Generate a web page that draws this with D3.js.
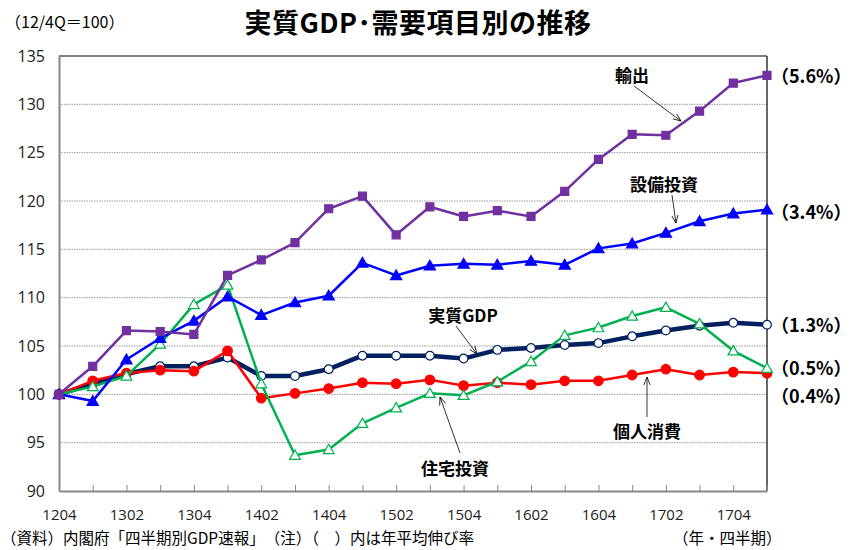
<!DOCTYPE html>
<html>
<head>
<meta charset="utf-8">
<script src="https://cdn.jsdelivr.net/npm/d3@7"></script>
<style>
  body { margin: 0; background: #fff; }
  svg text { font-family: "Noto Sans CJK JP", "Noto Sans", sans-serif; }
</style>
</head>
<body>
<div id="chart"></div>
<script>
// quarters (YYQ)
var quarters = ['1204', '1301', '1302', '1303', '1304', '1401', '1402', '1403', '1404', '1501', '1502',
    '1503', '1504', '1601', '1602', '1603', '1604', '1701', '1702', '1703', '1704', '1801'];
var tickLabels = ['1204', '1302', '1304', '1402', '1404', '1502', '1504', '1602', '1604', '1702', '1704'];

var gdp = [100, 101.1, 102.1, 102.9, 102.9, 103.8, 101.9, 101.9, 102.6, 104.0, 104.0,
    104.0, 103.7, 104.6, 104.8, 105.1, 105.3, 106.0, 106.6, 107.1, 107.4, 107.2];
var consumption = [100, 101.4, 102.2, 102.5, 102.4, 104.5, 99.6, 100.1, 100.6, 101.2, 101.1,
    101.5, 100.9, 101.2, 101.0, 101.4, 101.4, 102.0, 102.6, 102.0, 102.3, 102.2];
var housing = [100, 100.8, 101.9, 105.2, 109.3, 111.3, 101.1, 93.7, 94.3, 97.0, 98.6,
    100.1, 99.9, 101.3, 103.4, 106.1, 106.9, 108.1, 109.0, 107.3, 104.5, 102.7];
var equipment = [100, 99.3, 103.6, 105.8, 107.6, 110.1, 108.2, 109.5, 110.2, 113.6, 112.3,
    113.3, 113.5, 113.4, 113.8, 113.4, 115.1, 115.6, 116.7, 117.9, 118.7, 119.1];
var exports = [100, 102.9, 106.6, 106.5, 106.2, 112.3, 113.9, 115.7, 119.2, 120.5, 116.5,
    119.4, 118.4, 119.0, 118.4, 121.0, 124.3, 126.9, 126.8, 129.3, 132.2, 133.0];

var growthLabels = ['（5.6%）', '（3.4%）', '（1.3%）', '（0.5%）', '（0.4%）'];

var W = 850, H = 550,
    plotL = 59, plotR = 767, plotT = 56, plotB = 491;

var svg = d3.select('#chart').append('svg')
    .attr('width', W).attr('height', H);

var x = d3.scalePoint().domain(quarters).range([plotL, plotR]);
var y = d3.scaleLinear().domain([90, 135]).range([plotB, plotT]);

// title & unit
svg.append('text').attr('x', 5).attr('y', 28)
    .style('font-size', '16px').text('（12/4Q＝100）');
svg.append('text').attr('x', 418).attr('y', 33).attr('text-anchor', 'middle')
    .style('font-size', '27px').style('font-weight', 'bold').style('letter-spacing', '0.5px')
    .text('実質GDP･需要項目別の推移');

// grid
svg.append('g').selectAll('line')
    .data(d3.range(95, 135, 5)).enter()
    .append('line')
    .attr('x1', plotL).attr('x2', plotR)
    .attr('y1', function(d) { return y(d); }).attr('y2', function(d) { return y(d); })
    .attr('stroke', '#999').attr('stroke-width', 1)
    .attr('stroke-dasharray', '1.5,1');

// frame: top/right black, left/bottom gray
svg.append('line').attr('x1', plotL).attr('x2', plotR).attr('y1', plotT).attr('y2', plotT)
    .attr('stroke', '#000').attr('stroke-width', 1.2);
svg.append('line').attr('x1', plotR).attr('x2', plotR).attr('y1', plotT).attr('y2', plotB)
    .attr('stroke', '#000').attr('stroke-width', 1.2);

var yAxis = svg.append('g').attr('transform', 'translate(' + plotL + ',0)')
    .call(d3.axisLeft(y).tickValues(d3.range(90, 136, 5)).tickSize(0).tickPadding(14));
yAxis.select('.domain').attr('stroke', '#888').attr('stroke-width', 2);
yAxis.selectAll('text').style('font-size', '16px').style('font-family', '"Open Sans", sans-serif')
    .attr('fill', '#222');

var xAxis = svg.append('g').attr('transform', 'translate(0,' + plotB + ')')
    .call(d3.axisBottom(x).tickSize(-6).tickSizeOuter(0)
        .tickFormat(function(d) { return tickLabels.indexOf(d) >= 0 ? d : ''; }));
xAxis.select('.domain').attr('stroke', '#888').attr('stroke-width', 2);
xAxis.selectAll('.tick line').attr('stroke', '#888');
xAxis.selectAll('text').attr('dy', '1.75em').style('font-size', '15px')
    .style('font-family', '"Open Sans", sans-serif').attr('fill', '#222');

// series
var line = d3.line()
    .x(function(d, i) { return x(quarters[i]); })
    .y(function(d) { return y(d); });

function drawSeries(values, color, width, marker, fill) {
    var g = svg.append('g');
    g.append('path').datum(values)
        .attr('d', line).attr('fill', 'none')
        .attr('stroke', color).attr('stroke-width', width)
        .attr('stroke-linejoin', 'round');
    var sym = d3.symbol().type(marker.type).size(marker.size);
    g.selectAll('path.mk').data(values).enter()
        .append('path').attr('class', 'mk')
        .attr('d', sym)
        .attr('transform', function(d, i) {
            return 'translate(' + x(quarters[i]) + ',' + (y(d) + (marker.dy || 0)) + ')';
        })
        .attr('fill', fill).attr('stroke', color).attr('stroke-width', marker.sw || 1.2);
}

drawSeries(gdp, '#002060', 4.5, {type: d3.symbolCircle, size: 60}, '#fff');
drawSeries(consumption, '#ff0000', 2.5, {type: d3.symbolCircle, size: 72}, '#ff0000');
drawSeries(housing, '#00b050', 2.5, {type: d3.symbolTriangle, size: 50, dy: 1}, '#fff');
drawSeries(equipment, '#0000ff', 2.5, {type: d3.symbolTriangle, size: 55, dy: 1}, '#0000ff');
drawSeries(exports, '#7030a0', 2.5, {type: d3.symbolSquare, size: 64}, '#7030a0');

// annotations
var defs = svg.append('defs');
defs.append('marker').attr('id', 'arr')
    .attr('viewBox', '0 0 10 10').attr('refX', 10).attr('refY', 5)
    .attr('markerWidth', 8).attr('markerHeight', 8).attr('orient', 'auto')
    .attr('markerUnits', 'userSpaceOnUse')
    .append('path').attr('d', 'M0,1 L10,5 L0,9').attr('fill', 'none')
    .attr('stroke', '#000').attr('stroke-width', 1);

var notes = [
    {text: '輸出', tx: 632, ty: 82, x1: 634, y1: 86, x2: 681, y2: 121},
    {text: '設備投資', tx: 664, ty: 191, x1: 672, y1: 195, x2: 676, y2: 223},
    {text: '実質GDP', tx: 463, ty: 322, x1: 456, y1: 326, x2: 477, y2: 354},
    {text: '住宅投資', tx: 455, ty: 475, x1: 460, y1: 453, x2: 440, y2: 397},
    {text: '個人消費', tx: 647, ty: 438, x1: 647, y1: 417, x2: 647, y2: 377}
];
notes.forEach(function(n) {
    svg.append('line').attr('x1', n.x1).attr('y1', n.y1).attr('x2', n.x2).attr('y2', n.y2)
        .attr('stroke', '#000').attr('stroke-width', 0.8).attr('marker-end', 'url(#arr)');
    svg.append('text').attr('x', n.tx).attr('y', n.ty).attr('text-anchor', 'middle')
        .style('font-size', '17px').style('font-weight', 'bold').text(n.text);
});

// growth rates on the right
var growthY = [77, 213, 326, 369, 397];
growthLabels.forEach(function(t, i) {
    svg.append('text').attr('x', 771).attr('y', growthY[i]).attr('dy', '0.36em')
        .style('font-size', '18px').style('font-weight', 'bold').text(t);
});

// footer
svg.append('text').attr('x', 1).attr('y', 544).style('font-size', '15.5px')
    .text('（資料）内閣府「四半期別GDP速報」　（注）（　）内は年平均伸び率');
svg.append('text').attr('x', 673).attr('y', 544).style('font-size', '15.5px')
    .text('（年・四半期）');
</script>
</body>
</html>
